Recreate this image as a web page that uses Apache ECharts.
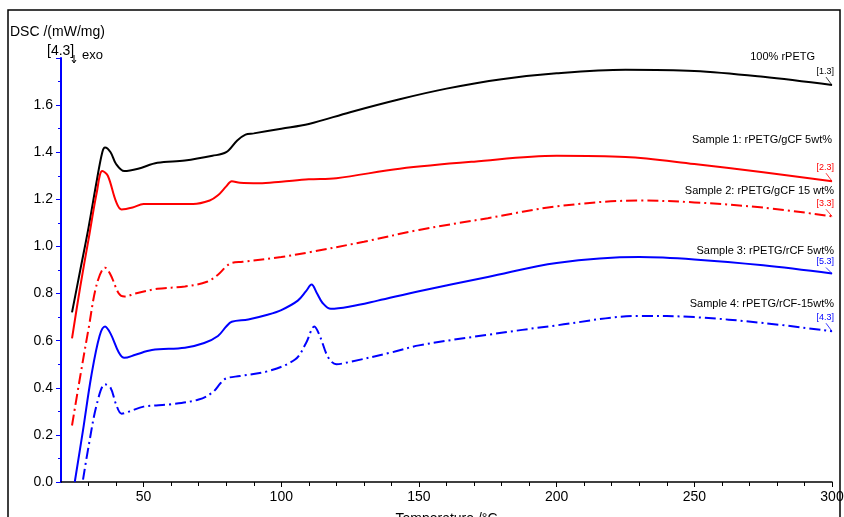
<!DOCTYPE html>
<html><head><meta charset="utf-8">
<script src="https://cdn.jsdelivr.net/npm/echarts@6/dist/echarts.min.js"></script>
<style>html,body{margin:0;padding:0;background:#fff}#c{width:844px;height:517px}</style>
</head><body><div id="c"></div>
<script>
// ---- data ----
const seriesNames = ['100% rPETG','Sample 1: rPETG/gCF 5wt%','Sample 2: rPETG/gCF 15 wt%','Sample 3: rPETG/rCF 5wt%','Sample 4: rPETG/rCF-15wt%'];
const curveTags = ['[1.3]','[2.3]','[3.3]','[5.3]','[4.3]'];

const tBlack = [24,27,30,33,35,36,38,40,43,48,55,65,75,80,84,87,90,100,110,125,143,160,180,200,225,250,275,300];
const vBlack = [0.72,0.90,1.08,1.28,1.40,1.42,1.40,1.35,1.32,1.33,1.355,1.365,1.385,1.40,1.45,1.475,1.48,1.50,1.52,1.57,1.625,1.67,1.71,1.735,1.75,1.745,1.72,1.685];

const tRed1 = [24,27,30,33,35,37,40,42,46,50,60,68,74,77,80,82,85,92,100,110,120,143,170,200,225,250,275,300];
const vRed1 = [0.61,0.83,1.03,1.23,1.32,1.30,1.19,1.157,1.165,1.18,1.18,1.18,1.195,1.217,1.255,1.277,1.27,1.268,1.275,1.285,1.29,1.33,1.36,1.385,1.38,1.35,1.315,1.277];

const tRed2 = [24,27,30,33,36,38,41,43,47,55,65,73,77,80,82,86,100,110,130,150,175,200,230,250,275,300];
const vRed2 = [0.24,0.45,0.65,0.84,0.91,0.88,0.80,0.787,0.80,0.82,0.83,0.85,0.88,0.915,0.93,0.935,0.955,0.975,1.02,1.07,1.12,1.17,1.195,1.187,1.165,1.128];

const tBlue1 = [25,28,31,34,36,38,41,43,47,53,65,72,77,80,82,88,95,100,106,109,111,113,115,118,125,135,150,175,200,230,250,275,300];
const vBlue1 = [0.0,0.22,0.45,0.62,0.66,0.63,0.55,0.527,0.54,0.56,0.57,0.59,0.62,0.66,0.68,0.69,0.71,0.73,0.77,0.81,0.838,0.80,0.76,0.735,0.745,0.77,0.81,0.87,0.93,0.955,0.945,0.92,0.885];

const tBlue2 = [28,30,33,36,38,40,42,45,50,60,70,75,78,80,85,95,105,109,112,114,117,120,125,140,150,175,200,230,250,275,300];
const vBlue2 = [0.01,0.15,0.33,0.415,0.40,0.33,0.29,0.30,0.32,0.33,0.35,0.38,0.42,0.44,0.45,0.47,0.52,0.59,0.66,0.62,0.53,0.50,0.51,0.55,0.58,0.625,0.665,0.705,0.70,0.675,0.64];

const xLabelValues = [50,100,150,200,250,300];
const xMinorValues = [30,40,60,70,80,90,110,120,130,140,160,170,180,190,210,220,230,240,260,270,280,290];

// ---- styles ----
const FONT = 'Liberation Sans, Arial, sans-serif';
const dashDot = [11,4,2,4];
const styles = [
  {color:'#000000', type:'solid', nameDx:-17, nameDy:-28, tagDy:-14},
  {color:'#ff0000', type:'solid', nameDx:0, nameDy:-41, tagDy:-14},
  {color:'#ff0000', type:dashDot, nameDx:2, nameDy:-25, tagDy:-13},
  {color:'#0000ff', type:'solid', nameDx:2, nameDy:-23, tagDy:-12},
  {color:'#0000ff', type:dashDot, nameDx:2, nameDy:-27, tagDy:-14}
];
const tArr = [tBlack,tRed1,tRed2,tBlue1,tBlue2];
const vArr = [vBlack,vRed1,vRed2,vBlue1,vBlue2];

const chart = echarts.init(document.getElementById('c'), null, {renderer:'canvas'});
const series = tArr.map((t,i)=>({
  type:'line', name:seriesNames[i], xAxisIndex:0, yAxisIndex:0,
  data:t.map((x,j)=>[x,vArr[i][j]]),
  smooth:0.35, showSymbol:false, symbol:'none', animation:false,
  lineStyle:{color:styles[i].color, width:2, type:styles[i].type}
}));

chart.setOption({
  animation:false,
  grid:{left:61, right:12, top:58, bottom:35, containLabel:false, outerBoundsMode:'none'},
  xAxis:[{
    type:'value', min:20, max:300,
    axisLine:{show:true, lineStyle:{color:'#000', width:1.5}},
    axisTick:{show:true, customValues:xLabelValues, length:5, lineStyle:{color:'#000'}},
    axisLabel:{customValues:xLabelValues, color:'#000', fontSize:14, fontFamily:FONT, margin:8},
    splitLine:{show:false},
    name:'Temperature /°C', nameLocation:'middle', nameGap:30,
    nameTextStyle:{color:'#000', fontSize:14, fontFamily:FONT}
  },{
    type:'value', min:20, max:300, gridIndex:0, position:'bottom',
    axisLine:{show:false},
    axisTick:{show:true, customValues:xMinorValues, length:4, lineStyle:{color:'#000'}},
    axisLabel:{show:false}, splitLine:{show:false}
  }],
  yAxis:[{
    type:'value', min:0, max:1.8, interval:0.2,
    axisLine:{show:true, lineStyle:{color:'#0000ff', width:2}},
    axisTick:{show:true, length:5, lineStyle:{color:'#0000ff'}},
    minorTick:{show:true, splitNumber:2, length:3, lineStyle:{color:'#0000ff'}},
    axisLabel:{color:'#000', fontSize:14, fontFamily:FONT, margin:8, showMaxLabel:false,
      formatter:v=> v>1.75 ? '' : v.toFixed(1)},
    splitLine:{show:false}
  }],
  series:series
});

// annotations placed relative to each curve's last data point
const g = [];
g.push({type:'rect', shape:{x:8,y:10,width:832,height:530}, style:{fill:'none', stroke:'#000', lineWidth:1.5}, silent:true, z:100});
g.push({type:'text', left:10, top:25, style:{text:'DSC /(mW/mg)', font:'14px '+FONT, fill:'#000'}});
g.push({type:'text', left:47, top:44, style:{text:'[4.3]', font:'14px '+FONT, fill:'#000'}});
g.push({type:'text', left:82, top:49, style:{text:'exo', font:'13px '+FONT, fill:'#000'}});
// small "exo down" arrow
g.push({type:'line', shape:{x1:74, y1:55, x2:74, y2:62}, style:{stroke:'#000', lineWidth:1}});
g.push({type:'polyline', shape:{points:[[72,60],[74,63],[76,60]]}, style:{stroke:'#000', lineWidth:1, fill:'none'}});
tArr.forEach((t,i)=>{
  const n = t.length-1;
  const p = chart.convertToPixel({xAxisIndex:0,yAxisIndex:0},[t[n], vArr[i][n]]);
  const st = styles[i];
  g.push({type:'text', x:p[0]+st.nameDx, y:p[1]+st.nameDy, style:{text:seriesNames[i], font:'11px '+FONT, fill:'#000', align:'right', verticalAlign:'middle'}});
  g.push({type:'text', x:p[0]+2, y:p[1]+st.tagDy, style:{text:curveTags[i], font:'9px '+FONT, fill:st.color, align:'right', verticalAlign:'middle'}});
  g.push({type:'line', shape:{x1:p[0]-6, y1:p[1]+st.tagDy+6, x2:p[0], y2:p[1]}, style:{stroke:st.color, lineWidth:0.8}});
});
chart.setOption({graphic:g});
</script>
</body></html>
